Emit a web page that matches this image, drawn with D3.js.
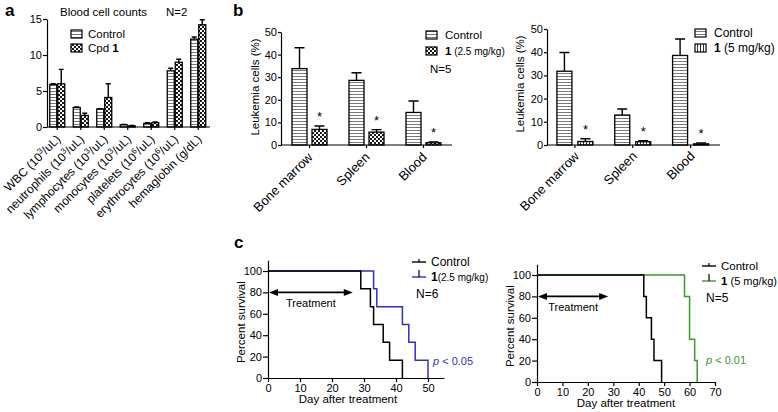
<!DOCTYPE html>
<html><head><meta charset="utf-8">
<script src="https://cdn.jsdelivr.net/npm/d3@7"></script>
<style>
body{margin:0;background:#fff;}
svg{display:block;font-family:"Liberation Sans",Arial,sans-serif;}
</style></head><body>
<svg id="chart" width="778" height="412"></svg>
<script>
// ---------- Panel a: blood cell counts ----------
const bloodCategories = ["WBC (10^3/uL)", "neutrophils (10^3/uL)", "lymphocytes (10^3/uL)", "monocytes (10^3/uL)", "platelets (10^6/uL)", "erythrocytes (10^6/uL)", "hemaglobin (g/dL)"];
const bloodControl = [5.9, 2.7, 2.5, 0.3, 0.5, 7.8, 12.2];
const bloodControlErr = [0.1, 0.1, 0.05, 0.05, 0.1, 0.35, 0.3];
const bloodCpd = [6.0, 1.6, 4.1, 0.15, 0.6, 9.0, 14.2];
const bloodCpdErr = [2.0, 0.3, 1.9, 0.05, 0.1, 0.4, 0.7];
const bloodTicks = [0, 5, 10, 15];

// ---------- Panel b: leukemia cells ----------
const tissueCategories = ["Bone marrow", "Spleen", "Blood"];
const leukLowControl = [33.8, 28.6, 14.4];
const leukLowControlErr = [9.2, 3.4, 5.1];
const leukLowCpd = [6.9, 5.7, 1.0];
const leukLowCpdErr = [1.5, 1.1, 0.4];
const leukHighControl = [31.8, 12.9, 38.6];
const leukHighControlErr = [8.1, 2.6, 7.1];
const leukHighCpd = [1.5, 1.4, 0.5];
const leukHighCpdErr = [1.2, 0.4, 0.4];
const leukTicks = [0, 10, 20, 30, 40, 50];

// ---------- Panel c: survival ----------
const survLowDaysControl = [0, 29, 32, 33, 36, 38, 42];
const survLowPctControl = [100, 83.3, 66.7, 50, 33.3, 16.7, 0];
const survLowDaysCpd = [0, 33, 34, 42, 44, 46, 50];
const survLowPctCpd = [100, 83.3, 66.7, 50, 33.3, 16.7, 0];
const survHighDaysControl = [0, 42, 43, 45, 46, 49];
const survHighPctControl = [100, 80, 60, 40, 20, 0];
const survHighDaysCpd = [0, 58, 60, 62, 63];
const survHighPctCpd = [100, 80, 40, 20, 0];
const survTicksY = [0, 20, 40, 60, 80, 100];
const survTicksXLow = [0, 10, 20, 30, 40, 50];
const survTicksXHigh = [0, 10, 20, 30, 40, 50, 60, 70];
const treatmentLow = [0, 26.5];
const treatmentHigh = [0, 28];

const svg = d3.select("#chart");
const defs = svg.append("defs");
const hs = defs.append("pattern").attr("id", "hstripe").attr("patternUnits", "userSpaceOnUse").attr("width", 4).attr("height", 3);
hs.append("rect").attr("width", 4).attr("height", 3).attr("fill", "#fff");
hs.append("rect").attr("y", 1).attr("width", 4).attr("height", 1).attr("fill", "#7a7a7a");
const ck = defs.append("pattern").attr("id", "checker").attr("patternUnits", "userSpaceOnUse").attr("width", 4).attr("height", 4);
ck.append("rect").attr("width", 4).attr("height", 4).attr("fill", "#fff");
ck.append("rect").attr("width", 2).attr("height", 2).attr("fill", "#1a1a1a");
ck.append("rect").attr("x", 2).attr("y", 2).attr("width", 2).attr("height", 2).attr("fill", "#1a1a1a");
const vs = defs.append("pattern").attr("id", "vstripe").attr("patternUnits", "userSpaceOnUse").attr("width", 3).attr("height", 4);
vs.append("rect").attr("width", 3).attr("height", 4).attr("fill", "#fff");
vs.append("rect").attr("x", 1).attr("width", 1).attr("height", 4).attr("fill", "#333");

function styleAxis(g, fs) {
  g.attr("font-family", null).attr("font-size", null);
  g.selectAll("text").attr("font-size", fs + "px").attr("fill", "#000");
  g.selectAll("line,path").attr("stroke", "#000").attr("stroke-width", 1.2);
}

function addSupText(t, str) {
  const parts = str.split(/\^(\d)/);
  parts.forEach((p, k) => {
    if (k % 2 === 1) {
      t.append("tspan").attr("dy", -4.5).attr("font-size", "8px").text(p);
    } else if (p) {
      const s = t.append("tspan").text(p);
      if (k > 0) s.attr("dy", 4.5);
    }
  });
}

function barPanel(o) {
  const g = svg.append("g");
  const y = d3.scaleLinear().domain([0, o.yMax]).range([o.yBottom, o.yTop]);
  const x = d3.scaleBand().domain(o.categories).range(o.bandRange);
  const cx = c => x(c) + x.bandwidth() / 2;
  const rows = o.categories.map((c, i) => ({c, ctrl: o.ctrl[i], ctrlErr: o.ctrlErr[i], cpd: o.cpd[i], cpdErr: o.cpdErr[i]}));

  const eb = (sel, key, errKey, off) => {
    sel.selectAll(null).data(rows).join("path")
      .attr("d", d => {
        const xm = cx(d.c) + off;
        const y1 = y(d[key]), y2 = y(d[key] + d[errKey]);
        return `M${xm},${y1}V${y2}M${xm - o.capW / 2},${y2}H${xm + o.capW / 2}`;
      })
      .attr("stroke", "#000").attr("stroke-width", 1.4).attr("fill", "none");
  };
  eb(g, "ctrl", "ctrlErr", -o.gap / 2 - o.barW / 2);
  eb(g, "cpd", "cpdErr", o.gap / 2 + o.barW / 2);

  g.selectAll(null).data(rows).join("rect")
    .attr("x", d => cx(d.c) - o.gap / 2 - o.barW)
    .attr("y", d => y(d.ctrl)).attr("width", o.barW)
    .attr("height", d => y(0) - y(d.ctrl))
    .attr("fill", "url(#hstripe)").attr("stroke", "#000").attr("stroke-width", 1.3);
  g.selectAll(null).data(rows).join("rect")
    .attr("x", d => cx(d.c) + o.gap / 2)
    .attr("y", d => y(d.cpd)).attr("width", o.barW)
    .attr("height", d => y(0) - y(d.cpd))
    .attr("fill", o.cpdFill).attr("stroke", "#000").attr("stroke-width", 1.3);

  if (o.stars) {
    g.selectAll(null).data(rows).join("text")
      .attr("x", d => cx(d.c) + o.gap / 2 + o.barW / 2)
      .attr("y", d => y(d.cpd + d.cpdErr) - 5)
      .attr("text-anchor", "middle").attr("font-size", "13px").text("*");
  }

  const ya = g.append("g").attr("transform", `translate(${o.axisX},0)`)
    .call(d3.axisLeft(y).tickValues(o.ticks).tickSize(o.tickSize).tickSizeOuter(0).tickPadding(1));
  styleAxis(ya, 11);
  g.append("line").attr("x1", o.axisX).attr("x2", o.xEnd).attr("y1", y(0)).attr("y2", y(0))
    .attr("stroke", "#000").attr("stroke-width", 1.2);
  g.selectAll(null).data(rows).join("line")
    .attr("x1", d => cx(d.c)).attr("x2", d => cx(d.c))
    .attr("y1", y(0)).attr("y2", y(0) + 3).attr("stroke", "#000").attr("stroke-width", 1.2);

  g.selectAll(null).data(rows).join("text")
    .attr("transform", d => `translate(${cx(d.c) + o.labelDx},${o.labelY}) rotate(-45)`)
    .attr("text-anchor", "end").attr("font-size", o.labelSize + "px")
    .each(function (d) { addSupText(d3.select(this), d.c); });

  if (o.yTitle) {
    g.append("text").attr("transform", `translate(${o.yTitleX},${o.yTitleY}) rotate(-90)`)
      .attr("text-anchor", "middle").attr("font-size", "11.5px").text(o.yTitle);
  }
  return g;
}

function legendBox(x, y, fill) {
  svg.append("rect").attr("x", x).attr("y", y).attr("width", 11).attr("height", 8)
    .attr("fill", fill).attr("stroke", "#000").attr("stroke-width", 1.2);
}

// Panel a
barPanel({
  categories: bloodCategories, ctrl: bloodControl, ctrlErr: bloodControlErr, cpd: bloodCpd, cpdErr: bloodCpdErr,
  yMax: 15, yTop: 19, yBottom: 127, bandRange: [45.5, 210], axisX: 47, xEnd: 210,
  barW: 7, gap: 1, capW: 5, ticks: bloodTicks, tickSize: 4, cpdFill: "url(#checker)",
  labelDx: 4, labelY: 140, labelSize: 12
});
svg.append("text").attr("x", 5).attr("y", 16).attr("font-size", "17px").attr("font-weight", "bold").text("a");
svg.append("text").attr("x", 60).attr("y", 15.5).attr("font-size", "11.5px").text("Blood cell counts");
svg.append("text").attr("x", 166).attr("y", 15.5).attr("font-size", "11.5px").text("N=2");
legendBox(71, 30, "url(#hstripe)");
svg.append("text").attr("x", 88).attr("y", 38).attr("font-size", "11.5px").text("Control");
legendBox(71, 44, "url(#checker)");
const cpdT = svg.append("text").attr("x", 88).attr("y", 52).attr("font-size", "11.5px");
cpdT.append("tspan").text("Cpd ");
cpdT.append("tspan").attr("font-weight", "bold").text("1");

// Panel b left
barPanel({
  categories: tissueCategories, ctrl: leukLowControl, ctrlErr: leukLowControlErr, cpd: leukLowCpd, cpdErr: leukLowCpdErr,
  yMax: 50, yTop: 32, yBottom: 145, bandRange: [281, 452], axisX: 281, xEnd: 452,
  barW: 15, gap: 5, capW: 10, ticks: leukTicks, tickSize: 3, cpdFill: "url(#checker)", stars: true,
  labelDx: 4, labelY: 158, labelSize: 13,
  yTitle: "Leukemia cells (%)", yTitleX: 259, yTitleY: 87
});
svg.append("text").attr("x", 233).attr("y", 16).attr("font-size", "17px").attr("font-weight", "bold").text("b");
legendBox(426, 31, "url(#hstripe)");
svg.append("text").attr("x", 445).attr("y", 39).attr("font-size", "11.5px").text("Control");
legendBox(426, 47, "url(#checker)");
const lb1 = svg.append("text").attr("x", 445).attr("y", 55).attr("font-size", "11.5px");
lb1.append("tspan").attr("font-weight", "bold").text("1");
lb1.append("tspan").attr("font-size", "10px").text(" (2.5 mg/kg)");
svg.append("text").attr("x", 430).attr("y", 73).attr("font-size", "11.5px").text("N=5");

// Panel b right
barPanel({
  categories: tissueCategories, ctrl: leukHighControl, ctrlErr: leukHighControlErr, cpd: leukHighCpd, cpdErr: leukHighCpdErr,
  yMax: 50, yTop: 29, yBottom: 145, bandRange: [546, 719.5], axisX: 547, xEnd: 720,
  barW: 15, gap: 6, capW: 10, ticks: leukTicks, tickSize: 3, cpdFill: "url(#vstripe)", stars: true,
  labelDx: 5, labelY: 157, labelSize: 13,
  yTitle: "Leukemia cells (%)", yTitleX: 524, yTitleY: 84
});
legendBox(695, 29, "url(#hstripe)");
svg.append("text").attr("x", 714).attr("y", 37).attr("font-size", "12px").text("Control");
legendBox(695, 44, "url(#vstripe)");
const lb2 = svg.append("text").attr("x", 714).attr("y", 52).attr("font-size", "12px");
lb2.append("tspan").attr("font-weight", "bold").text("1");
lb2.append("tspan").text(" (5 mg/kg)");

// ---------- KM panels ----------
function kmPanel(o) {
  const g = svg.append("g");
  const x = d3.scaleLinear().domain([0, o.xMax]).range([o.x0, o.x1]);
  const y = d3.scaleLinear().domain([0, 110]).range([o.yBottom, o.yTop]);
  const xa = g.append("g").attr("transform", `translate(0,${o.yBottom})`)
    .call(d3.axisBottom(x).tickValues(o.xTicks).tickSize(4).tickSizeOuter(0).tickPadding(2));
  styleAxis(xa, 11);
  const ya = g.append("g").attr("transform", `translate(${o.x0},0)`)
    .call(d3.axisLeft(y).tickValues(survTicksY).tickSize(5).tickSizeOuter(0).tickPadding(1));
  styleAxis(ya, 11);

  const line = d3.line().x(d => x(d[0])).y(d => y(d[1])).curve(d3.curveStepAfter);
  o.series.forEach(s => {
    g.append("path").datum(d3.zip(s.days, s.pct)).attr("d", line)
      .attr("fill", "none").attr("stroke", s.color).attr("stroke-width", 1.5);
  });

  const ay = y(80), xs = x(o.treat[0]) + 1, xe = x(o.treat[1]);
  g.append("line").attr("x1", xs + 6).attr("x2", xe - 6).attr("y1", ay).attr("y2", ay)
    .attr("stroke", "#000").attr("stroke-width", 1.6);
  g.append("path").attr("d", `M${xs},${ay}L${xs + 9},${ay - 3.5}L${xs + 9},${ay + 3.5}Z`).attr("fill", "#000");
  g.append("path").attr("d", `M${xe},${ay}L${xe - 9},${ay - 3.5}L${xe - 9},${ay + 3.5}Z`).attr("fill", "#000");
  g.append("text").attr("x", (xs + xe) / 2).attr("y", ay + 14.5).attr("text-anchor", "middle")
    .attr("font-size", "11px").text("Treatment");

  g.append("text").attr("transform", `translate(${o.yTitleX},${(o.yBottom + o.yTop) / 2 + 3}) rotate(-90)`)
    .attr("text-anchor", "middle").attr("font-size", "11.5px").text("Percent survival");
  g.append("text").attr("x", (o.x0 + x(o.xTicks[o.xTicks.length - 1])) / 2).attr("y", o.xTitleY)
    .attr("text-anchor", "middle").attr("font-size", "11.5px").text("Day after treatment");

  const L = o.legend;
  g.append("line").attr("x1", L.x).attr("x2", L.x + 14).attr("y1", L.y).attr("y2", L.y).attr("stroke", "#000").attr("stroke-width", 1.4);
  g.append("line").attr("x1", L.x + 7).attr("x2", L.x + 7).attr("y1", L.y - 3).attr("y2", L.y).attr("stroke", "#000").attr("stroke-width", 1.2);
  g.append("text").attr("x", L.x + 19).attr("y", L.y + 4).attr("font-size", L.fs + "px").text("Control");
  g.append("line").attr("x1", L.x).attr("x2", L.x + 14).attr("y1", L.y + 15).attr("y2", L.y + 15).attr("stroke", o.color).attr("stroke-width", 1.4);
  g.append("line").attr("x1", L.x + 7).attr("x2", L.x + 7).attr("y1", L.y + 8).attr("y2", L.y + 15).attr("stroke", "#000").attr("stroke-width", 1.2);
  const t = g.append("text").attr("x", L.x + 19).attr("y", L.y + 19).attr("font-size", L.fs + "px");
  t.append("tspan").attr("font-weight", "bold").text("1");
  t.append("tspan").attr("font-size", L.small ? "10px" : (L.fs - 0.5) + "px").text(L.label);
  g.append("text").attr("x", L.nx).attr("y", L.y + 36).attr("font-size", "12px").text(L.n);

  const p = g.append("text").attr("x", o.p.x).attr("y", o.p.y).attr("font-size", "11px").attr("fill", o.color);
  p.append("tspan").attr("font-style", "italic").text("p");
  p.append("tspan").text(" < " + o.p.v);
}

svg.append("text").attr("x", 234).attr("y", 248).attr("font-size", "17px").attr("font-weight", "bold").text("c");

kmPanel({
  xMax: 55, x0: 268, x1: 444, yBottom: 378, yTop: 260.3, xTicks: survTicksXLow, color: "#2f2fc8",
  series: [
    {days: survLowDaysCpd, pct: survLowPctCpd, color: "#2f2fc8"},
    {days: survLowDaysControl, pct: survLowPctControl, color: "#000"}
  ],
  treat: treatmentLow, yTitleX: 245, xTitleY: 403,
  legend: {x: 412, y: 262, label: "(2.5 mg/kg)", small: true, n: "N=6", nx: 416, fs: 12},
  p: {x: 433, y: 365, v: "0.05"}
});

kmPanel({
  xMax: 70, x0: 537, x1: 715, yBottom: 382, yTop: 264.3, xTicks: survTicksXHigh, color: "#3a9a2a",
  series: [
    {days: survHighDaysCpd, pct: survHighPctCpd, color: "#3a9a2a"},
    {days: survHighDaysControl, pct: survHighPctControl, color: "#000"}
  ],
  treat: treatmentHigh, yTitleX: 514, xTitleY: 407,
  legend: {x: 702, y: 266, label: " (5 mg/kg)", small: false, n: "N=5", nx: 706, fs: 11.5},
  p: {x: 706, y: 364, v: "0.01"}
});
</script>
</body></html>
